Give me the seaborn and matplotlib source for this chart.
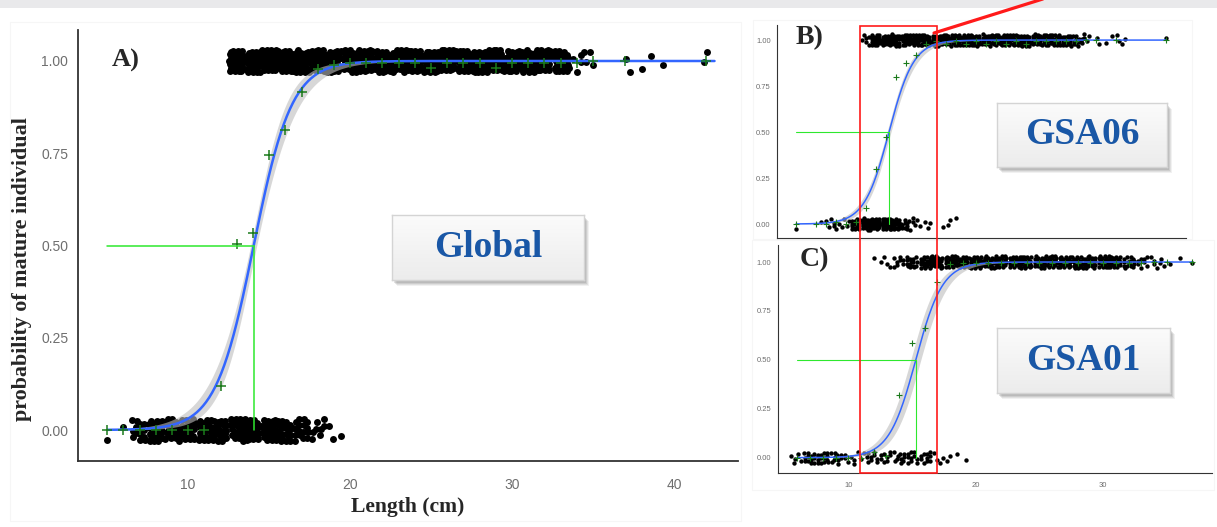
import numpy as np
import pandas as pd
import matplotlib
matplotlib.use("Agg")
import matplotlib.pyplot as plt
import seaborn as sns
from matplotlib.patches import Rectangle
from matplotlib.lines import Line2D

# ------------------------------------------------------------------
# Maturity ogives: A) pooled, B) GSA06, C) GSA01
# Individuals are shown as counts per 1-cm length class, immature (0)
# and mature (1); "+" marks are the observed proportion mature per class.
# ------------------------------------------------------------------

# A) Global
A_imm_len = [5, 6, 7, 8, 9, 10, 11, 12, 13, 14, 15, 16, 17, 18, 19]
A_imm_n = [1, 1, 14, 24, 22, 20, 22, 24, 22, 26, 24, 20, 16, 8, 3]
A_mat_len = [13, 14, 15, 16, 17, 18, 19, 20, 21, 22, 23, 24, 25, 26, 27, 28,
             29, 30, 31, 32, 33, 34, 35, 37, 38, 39, 42]
A_mat_n = [28, 32, 32, 32, 32, 32, 32, 32, 32, 32, 32, 32, 32, 32, 32, 32,
           32, 32, 32, 30, 26, 6, 3, 2, 1, 2, 2]
A_obs_len = [5, 6, 7, 8, 9, 10, 11, 12, 13, 14, 15, 16, 17, 18, 19, 20, 21,
             22, 23, 24, 25, 26, 27, 28, 29, 30, 31, 32, 33, 34, 35, 37, 42]
A_obs_p = [0, 0, 0, 0, 0, 0, 0, 0.12, 0.505, 0.535, 0.745, 0.813, 0.915,
           0.978, 0.99, 0.994, 0.994, 0.994, 0.994, 0.994, 0.98, 0.994,
           0.994, 0.994, 0.98, 0.994, 0.994, 0.994, 0.994, 0.994, 1, 1, 1]
A_L50, A_slope, A_se = 14.05, 0.85, (0.08, 0.07)

# B) GSA06
B_imm_len = [5, 8, 9, 10, 11, 12, 13, 14, 15, 16, 17, 18, 20, 21]
B_imm_n = [1, 3, 5, 4, 16, 22, 24, 24, 22, 10, 5, 3, 3, 1]
B_mat_len = [12, 13, 14, 15, 16, 17, 18, 19, 20, 21, 22, 23, 24, 25, 26, 27,
             28, 29, 30, 31, 32, 33, 34, 35, 36, 37, 38, 42]
B_mat_n = [6, 20, 20, 20, 20, 20, 20, 20, 20, 20, 20, 20, 20, 20, 20, 20,
           20, 20, 20, 20, 16, 12, 6, 2, 1, 3, 2, 1]
B_obs_len = [5, 7, 8, 9, 10, 11, 12, 13, 14, 15, 16, 17, 18, 19, 20, 21, 22,
             23, 24, 25, 26, 27, 28, 29, 30, 31, 32, 33, 34, 35, 37, 42]
B_obs_p = [0, 0, 0, 0.01, 0, 0.01, 0.089, 0.30, 0.475, 0.80, 0.873, 0.918,
           0.98, 0.995, 0.98, 0.995, 0.98, 0.995, 0.98, 0.995, 0.98, 0.995,
           0.98, 0.995, 0.995, 0.995, 0.995, 0.995, 1, 1, 1, 1]
B_L50, B_slope, B_se = 14.3, 0.81, (0.08, 0.05)

# C) GSA01
C_imm_len = [6, 7, 8, 9, 10, 11, 12, 13, 14, 15, 16, 17, 18, 19]
C_imm_n = [5, 12, 14, 10, 6, 4, 8, 8, 10, 10, 10, 4, 2, 2]
C_mat_len = [12, 13, 14, 15, 16, 17, 18, 19, 20, 21, 22, 23, 24, 25, 26, 27,
             28, 29, 30, 31, 32, 33, 34, 35, 36, 37]
C_mat_n = [1, 4, 8, 15, 20, 22, 22, 22, 22, 22, 22, 22, 22, 22, 22, 22, 22,
           22, 22, 22, 15, 8, 5, 3, 1, 1]
C_obs_len = [6, 7, 8, 9, 10, 11, 12, 13, 14, 15, 16, 17, 18, 19, 20, 21, 22,
             23, 24, 25, 26, 27, 28, 29, 30, 31, 32, 33, 34, 35, 37]
C_obs_p = [0, 0, 0, 0, 0, 0, 0.03, 0.01, 0.32, 0.585, 0.664, 0.896, 0.99,
           0.995, 0.995, 0.995, 0.995, 0.995, 0.995, 0.995, 0.995, 0.995,
           0.995, 0.995, 0.995, 0.995, 0.995, 0.995, 1, 1, 1]
C_L50, C_slope, C_se = 15.3, 0.95, (0.19, 0.06)

y_ticks = [0.0, 0.25, 0.5, 0.75, 1.0]
x_ticks = [10, 20, 30, 40]

# ------------------------------------------------------------------
W, H = 1217, 527
sns.set_style("white")
plt.rcParams["font.family"] = ["Liberation Sans", "DejaVu Sans"]

fig = plt.figure(figsize=(W / 100, H / 100), dpi=100)
fig.patch.set_facecolor("white")

BLUE = "#3366ff"
LIME = "#2ee82e"
DKGREEN = "#1b7a1b"
AXC = "#333333"
TICKC = "#6e6e6e"
SERIF = ["Liberation Serif", "DejaVu Serif"]


def fx(px):
    return px / W


def fy(py):
    return 1 - py / H


def px_axes(left, top, right, bottom, z=1):
    ax = fig.add_axes([fx(left), fy(bottom), fx(right - left),
                       (bottom - top) / H], zorder=z)
    ax.set_facecolor("none")
    return ax


def individuals(lengths, counts, level, start):
    """Place each fish inside its length class with an even, fixed jitter."""
    xs, ys = [], []
    k = start
    for L, n in zip(lengths, counts):
        for _ in range(n):
            k += 1
            dx = 0.0 if n == 1 else (((0.5 + k * 0.7548776662) % 1.0) - 0.5) * 0.96
            dy = (((0.5 + k * 0.5698402910) % 1.0) - 0.5) * 0.062
            xs.append(L + dx)
            ys.append(level + dy)
    return xs, ys


def draw_panel(ax, imm_len, imm_n, mat_len, mat_n, obs_len, obs_p,
               L50, slope, se, x0, x1, big):
    xi, yi = individuals(imm_len, imm_n, 0.0, 0)
    xm, ym = individuals(mat_len, mat_n, 1.0, 977)
    pts = pd.DataFrame({"length": xi + xm, "mature": yi + ym})
    sns.scatterplot(data=pts, x="length", y="mature", ax=ax, color="black",
                    s=25 if big else 10, linewidth=0, zorder=2, legend=False)

    # fitted logistic ogive with its confidence band
    grid = np.linspace(x0, x1, 400)
    eta = slope * (grid - L50)
    sd = np.sqrt(se[0] ** 2 + (se[1] * (grid - L50)) ** 2)
    fit = pd.DataFrame({"length": grid, "p": 1 / (1 + np.exp(-eta))})
    ax.fill_between(grid, 1 / (1 + np.exp(-(eta - 1.96 * sd))),
                    1 / (1 + np.exp(-(eta + 1.96 * sd))),
                    color="#bdbdbd", alpha=0.6, linewidth=0, zorder=3)
    sns.lineplot(data=fit, x="length", y="p", ax=ax, color=BLUE,
                 linewidth=1.8 if big else 1.1, zorder=4)

    obs = pd.DataFrame({"length": obs_len, "p": obs_p})
    sns.scatterplot(data=obs, x="length", y="p", ax=ax, marker="+",
                    color=DKGREEN, s=45 if big else 16,
                    linewidth=1.1 if big else 0.8, zorder=5, legend=False)

    # length at 50 % maturity
    lw = 1.1 if big else 0.8
    ax.plot([x0, L50], [0.5, 0.5], color=LIME, lw=lw, zorder=6)
    ax.plot([L50, L50], [0.5, 0.0], color=LIME, lw=lw, zorder=6)

    ax.set_xlabel("")
    ax.set_ylabel("")
    for s in ("top", "right"):
        ax.spines[s].set_visible(False)
    for s in ("left", "bottom"):
        ax.spines[s].set_color(AXC)
        ax.spines[s].set_linewidth(1.3 if big else 0.8)
    ax.set_yticks(y_ticks)
    ax.set_yticklabels([f"{v:.2f}" for v in y_ticks])
    ax.set_xticks(x_ticks)


# ---- page decorations -------------------------------------------------
fig.add_artist(Rectangle((0, fy(8)), 1, 8 / H, transform=fig.transFigure,
                         facecolor="#e9e9eb", edgecolor="none", zorder=0))
for (l, t, r, b) in [(10, 22, 741, 521), (753, 20, 1192, 239),
                     (752, 240, 1214, 490)]:
    fig.add_artist(Rectangle((fx(l), fy(b)), fx(r - l), (b - t) / H,
                             transform=fig.transFigure, facecolor="none",
                             edgecolor="#f6f6f6", linewidth=0.8, zorder=0))

# ---- A) Global ----------------------------------------------------------
axA = px_axes(78, 30, 738, 461)
draw_panel(axA, A_imm_len, A_imm_n, A_mat_len, A_mat_n, A_obs_len, A_obs_p,
           A_L50, A_slope, A_se, 5.0, 42.5, True)
axA.set_xlim(3.2, 43.95)
axA.set_ylim(-0.084, 1.084)
axA.tick_params(axis="both", length=4, width=1, color=AXC, labelsize=10,
                labelcolor=TICKC, pad=3)
axA.tick_params(axis="x", pad=8)

# ---- B) GSA06 -----------------------------------------------------------
axB = px_axes(777, 25, 1186, 238)
draw_panel(axB, B_imm_len, B_imm_n, B_mat_len, B_mat_n, B_obs_len, B_obs_p,
           B_L50, B_slope, B_se, 5.0, 42.0, False)
axB.set_xlim(3.1, 44.0)
axB.set_ylim(-0.076, 1.082)
axB.tick_params(axis="y", length=2.5, width=0.8, color=AXC, labelsize=5.5,
                labelcolor=TICKC, pad=2)
axB.tick_params(axis="x", length=0, labelbottom=False)

# ---- C) GSA01 -----------------------------------------------------------
axC = px_axes(777.7, 245, 1212, 472.7)
draw_panel(axC, C_imm_len, C_imm_n, C_mat_len, C_mat_n, C_obs_len, C_obs_p,
           C_L50, C_slope, C_se, 6.0, 37.0, False)
axC.set_xlim(4.46, 38.55)
axC.set_ylim(-0.077, 1.087)
axC.tick_params(axis="both", length=2.5, width=0.8, color=AXC, labelsize=5.5,
                labelcolor=TICKC, pad=2)
axC.tick_params(axis="x", pad=4)

# ---- panel letters and axis titles ---------------------------------------
for txt, (px, py), size in [("A)", (126, 60), 19), ("B)", (810, 38), 20),
                            ("C)", (814, 260), 20)]:
    fig.text(fx(px), fy(py), txt, family=SERIF, weight="bold", size=size,
             ha="center", va="center", zorder=8)
fig.text(fx(22), fy(269), "probability of mature individual", family=SERIF,
         weight="bold", size=15.8, rotation=90, ha="center", va="center")
fig.text(fx(408), fy(507), "Length (cm)", family=SERIF, weight="bold",
         size=15.6, ha="center", va="center")


# ---- region name boxes ----------------------------------------------------
def name_box(l, t, r, b, label):
    for off, a in [(6, 0.10), (5, 0.14), (4, 0.18), (3, 0.22)]:
        fig.add_artist(Rectangle((fx(l + off - 1), fy(b + off)),
                                 fx(r - l), (b - t) / H,
                                 transform=fig.transFigure,
                                 facecolor="#7a7a7a", alpha=a,
                                 edgecolor="none", zorder=6))
    bx = px_axes(l, t, r, b, z=7)
    grad = np.linspace(0.985, 0.925, 64).reshape(-1, 1)
    bx.imshow(np.dstack([grad, grad, grad]), aspect="auto",
              extent=(0, 1, 0, 1), origin="upper")
    bx.set_xlim(0, 1)
    bx.set_ylim(0, 1)
    bx.set_xticks([])
    bx.set_yticks([])
    for s in bx.spines.values():
        s.set_color("#d4d4d4")
        s.set_linewidth(1.0)
    bx.text(0.5, 0.5, label, transform=bx.transAxes, ha="center",
            va="center", family=SERIF, weight="bold", size=27,
            color="#1957a6")


name_box(392, 215, 584, 280, "Global")
name_box(997, 103, 1167, 167, "GSA06")
name_box(997, 328, 1170, 393, "GSA01")

# ---- highlighted length window linking B and C -----------------------------
fig.add_artist(Rectangle((fx(860), fy(473)), fx(936.5 - 860), (473 - 26) / H,
                         transform=fig.transFigure, facecolor="none",
                         edgecolor="#ff1a1a", linewidth=1.2, zorder=9))
fig.add_artist(Line2D([fx(934), fx(1046)], [fy(33), fy(-2)],
                      transform=fig.transFigure, color="#ff1a1a",
                      linewidth=2.3, zorder=9))

fig.savefig("out.png", dpi=100, facecolor="white")
